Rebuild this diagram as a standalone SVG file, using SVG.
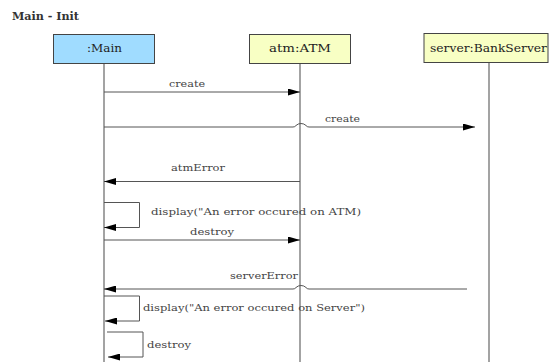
<svg xmlns="http://www.w3.org/2000/svg" width="549" height="362" viewBox="0 0 549 362">
<style>
.box{stroke:#444;stroke-width:1}
.life{stroke:#666;stroke-width:1.2;fill:none}
.msg{stroke:#555;stroke-width:1;fill:none}
.b{font-family:"DejaVu Serif",serif;font-size:11.500px;fill:#222;text-anchor:middle}
.m{font-family:"DejaVu Serif",serif;font-size:10px;fill:#444}
</style>
<defs>
<marker id="a" markerUnits="userSpaceOnUse" markerWidth="13" markerHeight="7" refX="12" refY="3.500" orient="auto"><path d="M0 0L12 3.500L0 7z" fill="#000"/></marker>
</defs>
<rect width="549" height="362" fill="#fff"/>
<text x="12" y="19.500" font-family="DejaVu Serif,serif" font-size="11" font-weight="bold" fill="#333" textLength="67" lengthAdjust="spacingAndGlyphs">Main - Init</text>
<g id="connectors">
<path class="life" d="M104 63V362"/>
<path class="life" d="M300 63V362"/>
<path class="life" d="M489 62V362"/>
<path class="msg" marker-end="url(#a)" d="M104 92H300"/>
<path class="msg" d="M104 127H293Q295 127 296 125.500Q298 123.500 301 123.500Q304 123.500 306 125.500Q307 127 309 127H475" marker-end="url(#a)"/>
<path class="msg" marker-end="url(#a)" d="M300 181.500H104"/>
<path class="msg" marker-end="url(#a)" d="M104 202.500H139.500V227.500H104"/>
<path class="msg" marker-end="url(#a)" d="M104 240H300"/>
<path class="msg" marker-end="url(#a)" d="M467 289H309Q307 289 306 287.500Q304 285.500 301 285.500Q298 285.500 296 287.500Q295 289 293 289H104"/>
<path class="msg" marker-end="url(#a)" d="M104 296H139.500V321H105"/>
<path class="msg" marker-end="url(#a)" d="M107 332H143V357H108"/>
</g>
<g id="main"><rect class="box" x="53.500" y="34.500" width="101" height="29" fill="#a0dcff"/><text class="b" x="104.500" y="52" textLength="35" lengthAdjust="spacingAndGlyphs">:Main</text></g>
<g id="atm"><rect class="box" x="249.500" y="34.500" width="101" height="29" fill="#f8ffc4"/><text class="b" x="300" y="52" textLength="62" lengthAdjust="spacingAndGlyphs">atm:ATM</text></g>
<g id="server"><rect class="box" x="424" y="33.500" width="124" height="29" fill="#f8ffc4"/><text class="b" x="488.500" y="52" textLength="117" lengthAdjust="spacingAndGlyphs">server:BankServer</text></g>
<g id="labels">
<text class="m" x="169" y="87" textLength="36" lengthAdjust="spacingAndGlyphs">create</text>
<text class="m" x="325" y="122" textLength="35" lengthAdjust="spacingAndGlyphs">create</text>
<text class="m" x="171" y="171" textLength="54" lengthAdjust="spacingAndGlyphs">atmError</text>
<text class="m" x="151" y="215" textLength="210" lengthAdjust="spacingAndGlyphs">display("An error occured on ATM)</text>
<text class="m" x="190" y="235" textLength="44" lengthAdjust="spacingAndGlyphs">destroy</text>
<text class="m" x="230" y="279" textLength="68" lengthAdjust="spacingAndGlyphs">serverError</text>
<text class="m" x="143" y="311" textLength="222" lengthAdjust="spacingAndGlyphs">display("An error occured on Server")</text>
<text class="m" x="147" y="348" textLength="44" lengthAdjust="spacingAndGlyphs">destroy</text>
</g>
</svg>
